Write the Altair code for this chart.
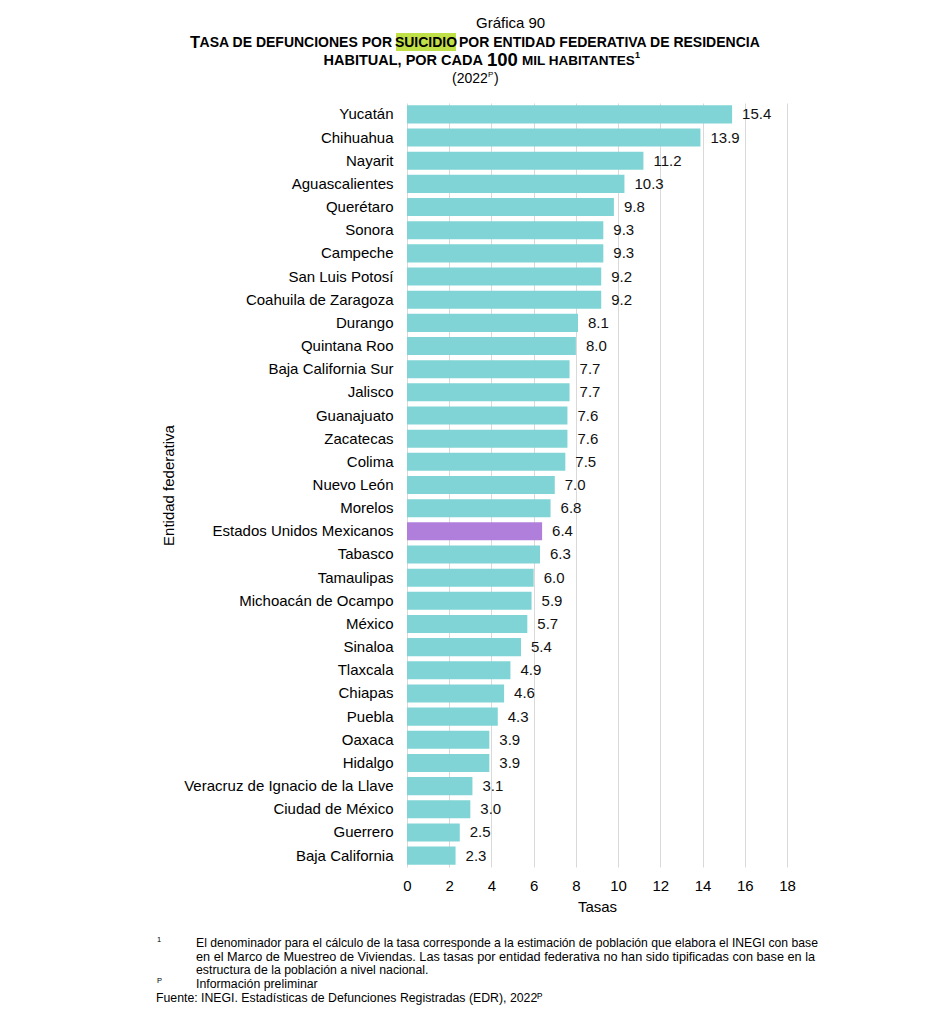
import altair as alt
import pandas as pd

entidades = [
    "Yucatán", "Chihuahua", "Nayarit", "Aguascalientes", "Querétaro", "Sonora",
    "Campeche", "San Luis Potosí", "Coahuila de Zaragoza", "Durango", "Quintana Roo",
    "Baja California Sur", "Jalisco", "Guanajuato", "Zacatecas", "Colima",
    "Nuevo León", "Morelos", "Estados Unidos Mexicanos", "Tabasco", "Tamaulipas",
    "Michoacán de Ocampo", "México", "Sinaloa", "Tlaxcala", "Chiapas", "Puebla",
    "Oaxaca", "Hidalgo", "Veracruz de Ignacio de la Llave", "Ciudad de México",
    "Guerrero", "Baja California",
]
tasas = [
    15.4, 13.9, 11.2, 10.3, 9.8, 9.3, 9.3, 9.2, 9.2, 8.1, 8.0, 7.7, 7.7, 7.6, 7.6,
    7.5, 7.0, 6.8, 6.4, 6.3, 6.0, 5.9, 5.7, 5.4, 4.9, 4.6, 4.3, 3.9, 3.9, 3.1, 3.0,
    2.5, 2.3,
]
nacional = "Estados Unidos Mexicanos"
x_ticks = [0, 2, 4, 6, 8, 10, 12, 14, 16, 18]

df = pd.DataFrame({"entidad": entidades, "tasa": tasas})

FONT = "Liberation Sans"
TEAL = "#80d4d6"
PURPLE = "#b07fdb"

# plot-area origin on the page
X0, Y0 = 407, 103
W, H = 380, 764


def txt(s, x, y, size=15, weight="normal", align="left", baseline="middle",
        font=FONT, color="#000000"):
    return alt.Chart(pd.DataFrame({"t": [s]})).mark_text(
        align=align, baseline=baseline, fontSize=size, fontWeight=weight,
        font=font, color=color,
    ).encode(x=alt.value(x - X0), y=alt.value(y - Y0), text="t:N")


y_enc = alt.Y(
    "entidad:N", sort=entidades,
    scale=alt.Scale(paddingInner=0.22, paddingOuter=0.1),
    axis=alt.Axis(
        title="Entidad federativa", titleFont=FONT, titleFontSize=15,
        titleFontWeight="normal", titleColor="#000", titleX=168 - X0,
        titleBaseline="middle", labelFont=FONT, labelFontSize=15,
        labelColor="#000", labelPadding=14, labelLimit=320, ticks=False,
        domain=False, grid=False,
    ),
)

bars = alt.Chart(df).mark_bar().encode(
    x=alt.X(
        "tasa:Q", scale=alt.Scale(domain=[0, 18], nice=False),
        axis=alt.Axis(
            values=x_ticks, title="Tasas", titleFont=FONT, titleFontSize=15,
            titleFontWeight="normal", titleColor="#000", titlePadding=6,
            labelFont=FONT, labelFontSize=15, labelColor="#000",
            labelPadding=11, labelFlush=False, ticks=False, domain=False,
            grid=True, gridColor="#d9d9d9", gridWidth=1,
        ),
    ),
    y=y_enc,
    color=alt.condition(alt.datum.entidad == nacional, alt.value(PURPLE), alt.value(TEAL)),
)

labels = alt.Chart(df).mark_text(
    align="left", baseline="middle", dx=10, fontSize=15, font=FONT, color="#111111"
).encode(
    x="tasa:Q",
    y=alt.Y("entidad:N", sort=entidades),
    text=alt.Text("tasa:Q", format=".1f"),
)

highlight = alt.Chart(pd.DataFrame({"a": [0]})).mark_rect(color="#bfe047").encode(
    x=alt.value(396 - X0), x2=alt.value(456 - X0),
    y=alt.value(33 - Y0), y2=alt.value(51 - Y0),
)

title_layers = [
    highlight,
    txt("Gráfica 90", 476, 23, size=15),
    txt("T", 200, 43, size=16.5, weight="bold", align="right"),
    txt("ASA DE DEFUNCIONES POR", 392, 43, size=14, weight="bold", align="right"),
    txt("SUICIDIO", 426, 43, size=14, weight="bold", align="center"),
    txt("POR ENTIDAD FEDERATIVA DE RESIDENCIA", 459, 43, size=14, weight="bold"),
    txt("HABITUAL, POR CADA", 483, 61, size=14.5, weight="bold", align="right"),
    txt("100", 487, 60, size=18.5, weight="bold"),
    txt("MIL HABITANTES", 522, 61, size=13.5, weight="bold"),
    txt("1", 635, 55, size=9, weight="bold"),
    txt("(2022", 452, 79, size=14),
    txt("P", 488, 75, size=8),
    txt(")", 494, 79, size=14),
]

notes = [
    txt("1", 157, 940, size=7.5),
    txt("El denominador para el cálculo de la tasa corresponde a la estimación de población que elabora el INEGI con base",
        196, 943, size=12.2),
    txt("en el Marco de Muestreo de Viviendas. Las tasas por entidad federativa no han sido tipificadas con base en la",
        196, 957, size=12.7),
    txt("estructura de la población a nivel nacional.", 196, 970, size=12.3),
    txt("P", 157, 981, size=7.5),
    txt("Información preliminar", 196, 984, size=12.3),
    txt("Fuente:", 156, 998, size=12.3),
    txt("INEGI. Estadísticas de Defunciones Registradas (EDR), 2022ᴾ", 201, 998, size=12.3),
]

chart = alt.layer(bars, labels, *title_layers, *notes).properties(
    width=W, height=H,
    autosize=alt.AutoSizeParams(type="none"),
    padding={"left": X0 - 8, "top": Y0 - 8, "right": 918 - (X0 - 8) - W, "bottom": 140},
    background="white",
).configure_view(stroke=None)

chart.save("out.html", embed_options={"renderer": "svg", "actions": False})
